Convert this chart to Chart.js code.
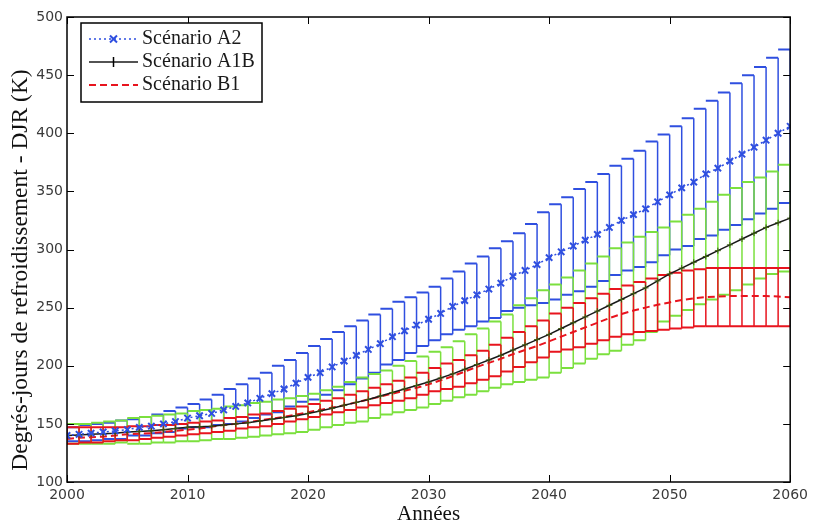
<!DOCTYPE html>
<html>
<head>
<meta charset="utf-8">
<script src="https://cdn.jsdelivr.net/npm/chart.js@4.4.0/dist/chart.umd.min.js"></script>
<style>
  html, body { margin: 0; padding: 0; background: #fff; }
</style>
</head>
<body>
<canvas id="djr" width="813" height="527"></canvas>
<script>
// années simulées (une barre d'erreur par an)
const annees = [2000, 2001, 2002, 2003, 2004, 2005, 2006, 2007, 2008, 2009,
  2010, 2011, 2012, 2013, 2014, 2015, 2016, 2017, 2018, 2019,
  2020, 2021, 2022, 2023, 2024, 2025, 2026, 2027, 2028, 2029,
  2030, 2031, 2032, 2033, 2034, 2035, 2036, 2037, 2038, 2039,
  2040, 2041, 2042, 2043, 2044, 2045, 2046, 2047, 2048, 2049,
  2050, 2051, 2052, 2053, 2054, 2055, 2056, 2057, 2058, 2059, 2060];

// Scénario A2
const a2Moyenne = [140, 141, 142, 143, 144, 145, 147, 148, 150, 152,
  155, 157, 159, 162, 165, 168, 172, 176, 180, 185,
  190, 194, 199, 204, 209, 214, 219, 225, 230, 235,
  240, 245, 251, 256, 261, 266, 271, 277, 282, 287,
  293, 298, 303, 308, 313, 319, 325, 330, 335, 341,
  347, 353, 358, 365, 370, 376, 382, 388, 394, 400, 406];
const a2Haut = [146, 147, 149, 150, 151, 153, 154, 156, 158, 161,
  164, 167, 171, 175, 180, 184, 189, 194, 200, 205,
  211, 217, 223, 229, 234, 239, 244, 249, 255, 259,
  263, 268, 275, 281, 288, 294, 301, 307, 314, 322,
  332, 339, 345, 352, 358, 365, 372, 378, 385, 393,
  399, 406, 413, 421, 428, 435, 443, 450, 457, 465, 472];
const a2Bas = [134, 135, 135, 136, 137, 137, 140, 140, 142, 143,
  146, 147, 147, 149, 150, 152, 155, 158, 160, 165,
  169, 171, 175, 179, 184, 189, 194, 201, 205, 211,
  217, 222, 227, 231, 234, 238, 241, 247, 250, 252,
  254, 257, 261, 264, 268, 273, 278, 282, 285, 289,
  295, 300, 303, 309, 312, 317, 321, 326, 331, 335, 340];

// Scénario A1B
const a1bMoyenne = [140, 140.5, 141, 141.5, 142, 143, 143.5, 144, 145, 146,
  147, 147.5, 148, 149, 150, 151, 152.5, 154, 155.5, 157,
  159, 161, 163.5, 166, 168.5, 171, 174, 177, 180, 183,
  186, 189.5, 193, 197, 201, 205, 209, 213.5, 218, 222.5,
  227, 232, 237, 242, 247, 252, 257, 262, 267, 273,
  279, 284, 289, 294, 299, 304, 309, 314, 319, 323, 327];
const a1bHaut = [150, 150, 150, 151, 152, 153, 155, 156, 157, 158,
  159, 161, 162, 163, 165, 166, 168, 169, 171, 172,
  174, 176, 179, 182, 186, 190, 193, 196, 200, 204,
  208, 212, 216, 221, 227, 232, 238, 244, 252, 258,
  265, 270, 276, 282, 288, 294, 301, 306, 311, 315,
  319, 324, 330, 335, 341, 347, 353, 358, 362, 367, 373];
const a1bBas = [133, 133, 133, 133, 133, 134, 133, 133, 134, 134,
  135, 135, 136, 137, 137, 138, 139, 140, 141, 142,
  143, 145, 147, 149, 151, 152, 155, 158, 160, 162,
  164, 167, 170, 173, 175, 178, 181, 184, 186, 188,
  190, 194, 198, 202, 206, 210, 213, 218, 222, 229,
  238, 243, 248, 253, 257, 261, 265, 270, 275, 279, 281];

// Scénario B1
const b1Moyenne = [137, 138, 138.5, 139, 140, 141, 141.5, 142, 143, 144,
  145, 146, 147.5, 149, 150, 151.5, 153, 154.5, 156, 158,
  160, 162, 164, 166, 168.5, 171, 173.5, 176, 178.5, 181,
  184, 187.5, 191, 195, 199, 202.5, 206, 210, 213.5, 217,
  221, 225, 229, 233, 237, 241, 244.5, 247.5, 250, 252.5,
  254.5, 256.5, 258, 259, 259.5, 260, 260, 260, 260, 259.5, 259];
const b1Haut = [147, 147, 147, 147, 147, 147, 148, 148, 149, 149,
  150, 151, 152, 153, 155, 156, 158, 159, 161, 163,
  165, 167, 170, 172, 175, 178, 181, 184, 187, 190,
  194, 198, 202, 205, 209, 213, 218, 224, 229, 234,
  239, 245, 250, 254, 258, 262, 266, 269, 272, 275,
  278, 280, 282, 283, 284, 284, 284, 284, 284, 284, 284];
const b1Bas = [133, 133, 134, 134, 135, 136, 136, 137, 138, 139,
  140, 141, 142, 143, 144, 146, 147, 148, 150, 152,
  154, 156, 158, 160, 162, 164, 166, 168, 170, 172,
  175, 178, 180, 182, 185, 188, 191, 195, 199, 203,
  207, 212, 214, 216, 219, 222, 225, 227, 229, 230,
  231, 232, 233, 234, 234, 234, 234, 234, 234, 234, 234];

const titreY = 'Degrés-jours de refroidissement - DJR (K)';

const BLEU = '#2f4fe0';
const VERT = '#7be03e';
const ROUGE = '#e8141e';

const erreurs = [
  { haut: a2Haut, bas: a2Bas, couleur: BLEU },
  { haut: a1bHaut, bas: a1bBas, couleur: VERT },
  { haut: b1Haut, bas: b1Bas, couleur: ROUGE }
];

function points(valeurs) {
  return annees.map((a, i) => ({ x: a, y: valeurs[i] }));
}

// barres d'erreur façon matlab, dessinées sous les courbes
const barresErreur = {
  id: 'barresErreur',
  beforeDatasetsDraw(chart) {
    const { ctx, chartArea, scales: { x, y } } = chart;
    ctx.save();
    ctx.beginPath();
    ctx.rect(chartArea.left, chartArea.top, chartArea.width, chartArea.height);
    ctx.clip();
    erreurs.forEach(e => {
      ctx.strokeStyle = e.couleur;
      for (let i = 0; i < annees.length; i++) {
        const px = x.getPixelForValue(annees[i]);
        const pg = x.getPixelForValue(annees[i] - 1);
        const ph = y.getPixelForValue(e.haut[i]);
        const pb = y.getPixelForValue(e.bas[i]);
        ctx.lineWidth = 1.5;
        ctx.beginPath();
        ctx.moveTo(px, ph);
        ctx.lineTo(px, pb);
        ctx.stroke();
        ctx.lineWidth = 2;
        ctx.beginPath();
        ctx.moveTo(pg, ph); ctx.lineTo(px, ph);
        ctx.moveTo(pg, pb); ctx.lineTo(px, pb);
        ctx.stroke();
      }
    });
    ctx.restore();
  }
};

// cadre noir, graduations vers l'intérieur, titre vertical
const cadre = {
  id: 'cadre',
  afterDraw(chart) {
    const { ctx, chartArea: a, scales: { x, y } } = chart;
    ctx.save();
    ctx.strokeStyle = '#000';
    ctx.lineWidth = 1;
    ctx.beginPath();
    x.ticks.forEach(t => {
      const px = Math.round(x.getPixelForValue(t.value)) + 0.5;
      ctx.moveTo(px, a.bottom); ctx.lineTo(px, a.bottom - 7);
      ctx.moveTo(px, a.top); ctx.lineTo(px, a.top + 7);
    });
    y.ticks.forEach(t => {
      const py = Math.round(y.getPixelForValue(t.value)) + 0.5;
      ctx.moveTo(a.left, py); ctx.lineTo(a.left + 7, py);
      ctx.moveTo(a.right, py); ctx.lineTo(a.right - 7, py);
    });
    ctx.stroke();
    ctx.lineWidth = 1.5;
    ctx.strokeRect(a.left, a.top, a.right - a.left, a.bottom - a.top);

    ctx.translate(21, 270);
    ctx.rotate(-Math.PI / 2);
    ctx.fillStyle = '#111';
    ctx.font = '23.5px "Liberation Serif"';
    ctx.textAlign = 'center';
    ctx.textBaseline = 'middle';
    ctx.fillText(titreY, 0, 0);
    ctx.restore();
  }
};

// légende encadrée en haut à gauche
const legende = {
  id: 'legende',
  afterDraw(chart) {
    const { ctx } = chart;
    const bx = 81, by = 23, bw = 181, bh = 79;
    ctx.save();
    ctx.fillStyle = '#fff';
    ctx.fillRect(bx, by, bw, bh);
    ctx.strokeStyle = '#000';
    ctx.lineWidth = 1.5;
    ctx.strokeRect(bx, by, bw, bh);
    const lignes = [39, 62, 85];
    chart.data.datasets.forEach((ds, i) => {
      const yl = lignes[i];
      ctx.strokeStyle = ds.borderColor;
      ctx.lineWidth = ds.borderWidth;
      ctx.setLineDash(ds.borderDash || []);
      ctx.beginPath();
      ctx.moveTo(89, yl); ctx.lineTo(138, yl);
      ctx.stroke();
      ctx.setLineDash([]);
      if (ds.pointStyle === 'crossRot') {
        ctx.strokeStyle = ds.pointBorderColor;
        ctx.lineWidth = 2;
        ctx.beginPath();
        ctx.moveTo(110, yl - 3.5); ctx.lineTo(117, yl + 3.5);
        ctx.moveTo(117, yl - 3.5); ctx.lineTo(110, yl + 3.5);
        ctx.stroke();
      } else if (ds.pointStyle === 'cross') {
        ctx.strokeStyle = '#000';
        ctx.lineWidth = 1.5;
        ctx.beginPath();
        ctx.moveTo(113.5, yl - 5); ctx.lineTo(113.5, yl + 5);
        ctx.stroke();
      }
      ctx.fillStyle = '#1a1a1a';
      ctx.font = '20px "Liberation Serif"';
      ctx.textBaseline = 'middle';
      ctx.fillText(ds.label, 142, yl);
    });
    ctx.restore();
  }
};

const police = { family: 'DejaVu Sans', size: 14 };

new Chart(document.getElementById('djr'), {
  type: 'line',
  data: {
    datasets: [{
      label: 'Scénario A2',
      data: points(a2Moyenne),
      borderColor: BLEU,
      borderWidth: 1.5,
      borderDash: [2, 3],
      pointStyle: 'crossRot',
      pointRadius: 4.5,
      pointBorderWidth: 2,
      pointBorderColor: BLEU,
      pointBackgroundColor: BLEU
    }, {
      label: 'Scénario A1B',
      data: points(a1bMoyenne),
      borderColor: '#1a1a1a',
      borderWidth: 1.5,
      pointStyle: 'cross',
      pointRadius: 3,
      pointBorderWidth: 1,
      pointBorderColor: '#3a5a10',
      pointBackgroundColor: '#3a5a10'
    }, {
      label: 'Scénario B1',
      data: points(b1Moyenne),
      borderColor: ROUGE,
      borderWidth: 2,
      borderDash: [7, 4],
      pointRadius: 0
    }]
  },
  options: {
    responsive: false,
    animation: false,
    layout: { padding: { top: 17, right: 18, left: 0, bottom: 0 } },
    plugins: {
      legend: { display: false },
      tooltip: { enabled: false }
    },
    scales: {
      x: {
        type: 'linear',
        min: 2000,
        max: 2060,
        grid: { display: false, drawTicks: false },
        border: { display: false },
        ticks: {
          stepSize: 10,
          padding: 5,
          color: '#3a3a3a',
          font: police,
          callback: v => String(v)
        },
        title: {
          display: true,
          text: 'Années',
          color: '#111',
          font: { family: 'Liberation Serif', size: 21 },
          padding: { top: 0, bottom: 0 }
        },
        afterFit: s => { s.height = 45; }
      },
      y: {
        min: 100,
        max: 500,
        grid: { display: false, drawTicks: false },
        border: { display: false },
        ticks: {
          stepSize: 50,
          padding: 4,
          color: '#3a3a3a',
          font: police
        },
        afterFit: s => { s.width = 67; }
      }
    }
  },
  plugins: [barresErreur, cadre, legende]
});
</script>
</body>
</html>
